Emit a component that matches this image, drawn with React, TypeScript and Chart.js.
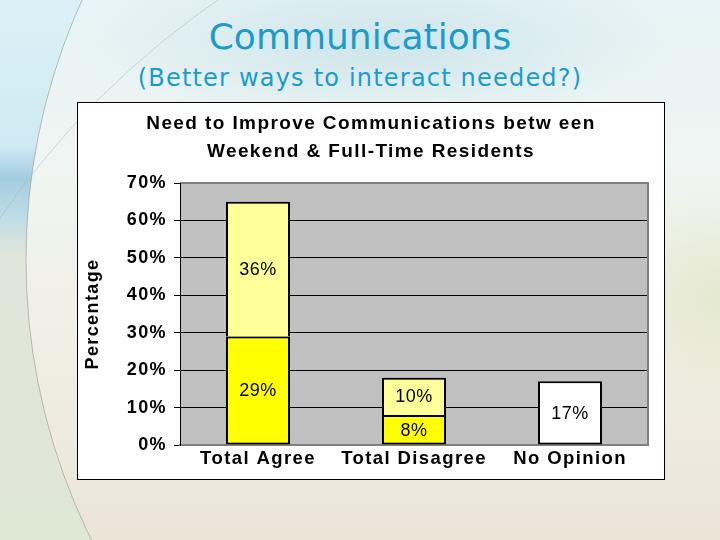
import React, { useEffect, useRef } from "react";
import { Chart, registerables } from "chart.js";

Chart.register(...registerables);

const categories = ["Total Agree", "Total Disagree", "No Opinion"];
const strongValues = [29, 8, null];
const mildValues = [36, 10, null];
const noOpinionValues = [null, null, 17];
const yTicks = [0, 10, 20, 30, 40, 50, 60, 70];
const chartTitle = ["Need to Improve Communications betw een", "Weekend & Full-Time Residents"];
const slideTitle = "Communications";
const slideSubtitle = "(Better ways to interact needed?)";

const FONT = "'Liberation Sans', Arial, sans-serif";

const spacingPlugin = {
  id: "spacing",
  beforeLayout(chart: any) {
    chart.ctx.letterSpacing = "1.4px";
  },
  beforeDraw(chart: any) {
    chart.ctx.letterSpacing = "1.4px";
  },
};

const plotBgPlugin = {
  id: "plotBg",
  beforeDraw(chart: any) {
    const { ctx, chartArea: a } = chart;
    ctx.save();
    ctx.fillStyle = "#C0C0C0";
    ctx.fillRect(a.left, a.top, a.right - a.left, a.bottom - a.top);
    ctx.restore();
  },
  beforeDatasetsDraw(chart: any) {
    const { ctx, chartArea: a } = chart;
    ctx.save();
    ctx.strokeStyle = "#808080";
    ctx.lineWidth = 2;
    ctx.beginPath();
    ctx.moveTo(a.left, a.top);
    ctx.lineTo(a.right, a.top);
    ctx.lineTo(a.right, a.bottom);
    ctx.stroke();
    ctx.strokeStyle = "#000";
    ctx.lineWidth = 1;
    ctx.beginPath();
    ctx.moveTo(a.left + 0.5, a.top);
    ctx.lineTo(a.left + 0.5, a.bottom);
    ctx.stroke();
    ctx.restore();
  },
};

const labelPlugin = {
  id: "barLabels",
  afterDatasetsDraw(chart: any) {
    const { ctx } = chart;
    ctx.save();
    ctx.letterSpacing = "0.5px";
    ctx.font = "18px " + FONT;
    ctx.fillStyle = "#000";
    ctx.textAlign = "center";
    ctx.textBaseline = "middle";
    chart.data.datasets.forEach((ds: any, i: number) => {
      const meta = chart.getDatasetMeta(i);
      meta.data.forEach((el: any, j: number) => {
        const v = ds.data[j];
        if (v === null || v === undefined) return;
        const p = el.getProps(["x", "y", "base"], true);
        ctx.fillText(v + "%", p.x, (p.y + p.base) / 2 + 1);
      });
    });
    ctx.restore();
  },
};

function BarChart() {
  const ref = useRef<HTMLCanvasElement | null>(null);
  useEffect(() => {
    if (!ref.current) return;
    const chart = new Chart(ref.current, {
      type: "bar",
      data: {
        labels: categories,
        datasets: [
          {
            label: "Strong",
            data: strongValues,
            backgroundColor: "#FFFF00",
            borderColor: "#000",
            borderWidth: 2,
            borderSkipped: false,
          },
          {
            label: "Mild",
            data: mildValues,
            backgroundColor: "#FFFF99",
            borderColor: "#000",
            borderWidth: 2,
            borderSkipped: "start",
          },
          {
            label: "No Opinion",
            data: noOpinionValues,
            backgroundColor: "#FFFFFF",
            borderColor: "#000",
            borderWidth: 2,
            borderSkipped: false,
          },
        ] as any,
      },
      options: {
        animation: false,
        responsive: true,
        maintainAspectRatio: false,
        layout: { padding: { left: 0, right: 0, top: 0, bottom: 0 } },
        datasets: { bar: { categoryPercentage: 1, barPercentage: 0.41, grouped: false } } as any,
        plugins: {
          legend: { display: false },
          tooltip: { enabled: false },
          title: {
            display: true,
            text: chartTitle,
            color: "#000",
            font: { family: FONT, size: 19, weight: "bold", lineHeight: "28px" } as any,
            padding: { top: 7, bottom: 17 },
          },
        },
        scales: {
          x: {
            stacked: true,
            grid: { display: false, drawTicks: false },
            border: { display: true, color: "#808080", width: 2 },
            ticks: {
              color: "#000",
              padding: 3,
              font: { family: FONT, size: 18.5, weight: "bold" },
            },
            afterFit(s: any) {
              s.height = 34;
            },
          },
          y: {
            stacked: true,
            min: 0,
            max: 70,
            afterBuildTicks(s: any) {
              s.ticks = yTicks.map((v) => ({ value: v }));
            },
            grid: {
              color: (c: any) => (c.tick && c.tick.value === 70 ? "#808080" : "#000"),
              tickColor: "#000",
              tickLength: 6,
              lineWidth: 1,
            },
            border: { display: true, color: "#000", width: 1 },
            ticks: {
              color: "#000",
              padding: 7,
              callback: (v: any) => v + "%",
              font: { family: FONT, size: 18, weight: "bold" },
            },
            title: {
              display: true,
              text: "Percentage",
              color: "#000",
              font: { family: FONT, size: 18, weight: "bold" },
              padding: { top: 4, bottom: 4 },
            },
            afterFit(s: any) {
              s.width = 102;
            },
          },
          spacer: {
            type: "linear",
            position: "right",
            display: true,
            grid: { display: false, drawTicks: false },
            border: { display: false },
            ticks: { display: false },
            afterFit(s: any) {
              s.width = 16;
            },
          },
        } as any,
      },
      plugins: [spacingPlugin, plotBgPlugin, labelPlugin],
    });
    return () => chart.destroy();
  }, []);
  return <canvas ref={ref} />;
}

function Background() {
  return (
    <svg width={720} height={540} style={{ position: "absolute", left: 0, top: 0 }}>
      <defs>
        <linearGradient id="bgV" x1="0" y1="0" x2="0" y2="540" gradientUnits="userSpaceOnUse">
          <stop offset="0" stopColor="#e7f3f5" />
          <stop offset="0.3" stopColor="#eff5f2" />
          <stop offset="0.6" stopColor="#f1efe6" />
          <stop offset="1" stopColor="#ebe5d8" />
        </linearGradient>
        <radialGradient id="haze" cx="0.5" cy="0.5" r="0.5">
          <stop offset="0" stopColor="#c9e3e9" stopOpacity="0.85" />
          <stop offset="1" stopColor="#c9e3e9" stopOpacity="0" />
        </radialGradient>
        <radialGradient id="yg" cx="0.5" cy="0.5" r="0.5">
          <stop offset="0" stopColor="#e3e8cc" stopOpacity="0.9" />
          <stop offset="1" stopColor="#e3e8cc" stopOpacity="0" />
        </radialGradient>
        <linearGradient id="outer" x1="0" y1="0" x2="0" y2="540" gradientUnits="userSpaceOnUse">
          <stop offset="0" stopColor="#dbf1f7" />
          <stop offset="0.27" stopColor="#d0eaf3" />
          <stop offset="0.33" stopColor="#a3cde0" />
          <stop offset="0.4" stopColor="#bcdce6" />
          <stop offset="0.47" stopColor="#e0e6da" />
          <stop offset="1" stopColor="#dfe7d5" />
        </linearGradient>
      </defs>
      <rect x={0} y={0} width={720} height={540} fill="url(#bgV)" />
      <ellipse cx={380} cy={45} rx={300} ry={80} fill="url(#haze)" />
      <ellipse cx={720} cy={300} rx={130} ry={110} fill="url(#yg)" />
      <path
        d="M0 0 H720 V540 H0 Z M26 260 A632 632 0 1 0 1290 260 A632 632 0 1 0 26 260 Z"
        fillRule="evenodd"
        fill="url(#outer)"
      />
      <circle cx={658} cy={260} r={632} fill="none" stroke="rgba(150,150,140,0.6)" strokeWidth={1} />
      <circle cx={700} cy={700} r={850} fill="none" stroke="rgba(175,180,175,0.5)" strokeWidth={1} />
    </svg>
  );
}

export default function App() {
  return (
    <div
      style={{
        position: "absolute",
        left: 0,
        top: 0,
        width: 720,
        height: 540,
        overflow: "hidden",
      }}
    >
      <Background />
      <div
        style={{
          position: "absolute",
          left: 0,
          top: 12,
          width: 720,
          textAlign: "center",
          fontFamily: "'DejaVu Sans', sans-serif",
          fontSize: 36,
          lineHeight: "50px",
          color: "#1a9ccb",
        }}
      >
        {slideTitle}
      </div>
      <div
        style={{
          position: "absolute",
          left: 0,
          top: 62,
          width: 720,
          textAlign: "center",
          fontFamily: "'DejaVu Sans', sans-serif",
          fontSize: 24,
          letterSpacing: "1.2px",
          lineHeight: "32px",
          color: "#1a9ccb",
        }}
      >
        {slideSubtitle}
      </div>
      <div
        style={{
          position: "absolute",
          left: 77,
          top: 102,
          width: 588,
          height: 378,
          boxSizing: "border-box",
          border: "1px solid #000",
          background: "#fff",
        }}
      >
        <div style={{ position: "relative", width: 586, height: 376 }}>
          <BarChart />
        </div>
      </div>
    </div>
  );
}
